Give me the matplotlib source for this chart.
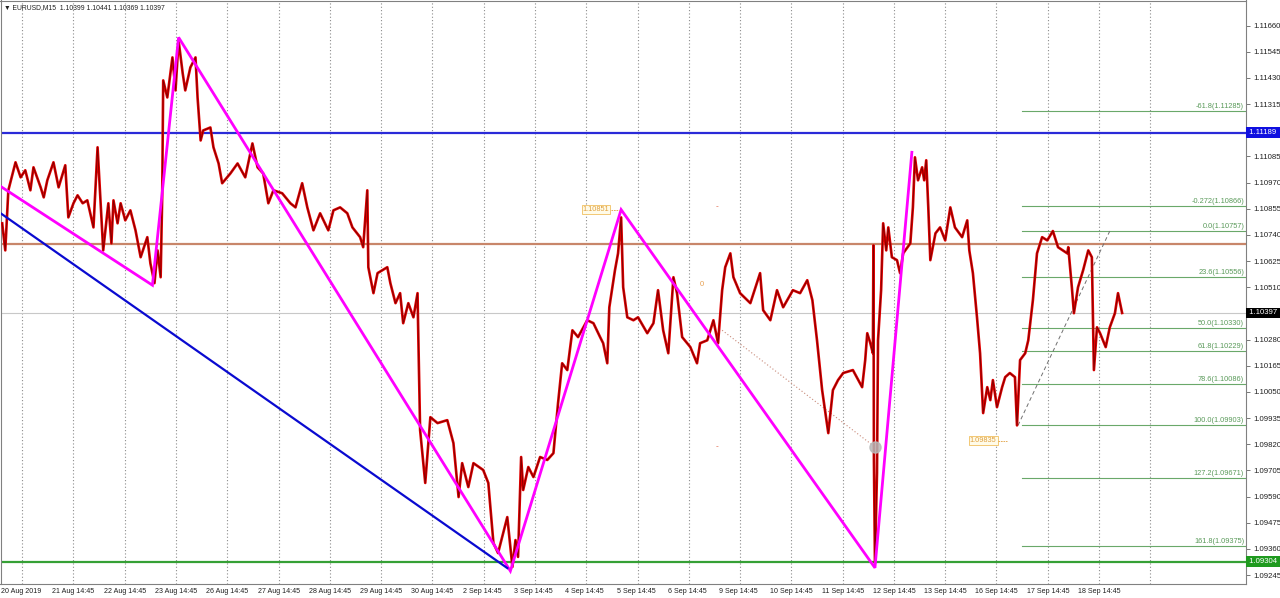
import matplotlib
matplotlib.use("Agg")
import matplotlib.pyplot as plt

plt.rcParams['font.family'] = ['Liberation Sans', 'DejaVu Sans']

# price path, x in trading days from 20 Aug 14:45
t_days = [-0.39, -0.33, -0.27, -0.13, -0.03, 0.06, 0.16, 0.22, 0.36, 0.42, 0.49, 0.61, 0.71, 0.84, 0.90,
          1.00, 1.08, 1.18, 1.27, 1.39, 1.47, 1.53, 1.58, 1.68, 1.74, 1.78, 1.86, 1.92, 2.01, 2.11,
          2.21, 2.31, 2.44, 2.50, 2.58, 2.64, 2.70, 2.73, 2.75, 2.83, 2.93, 2.99, 3.05, 3.13, 3.18,
          3.28, 3.38, 3.42, 3.48, 3.53, 3.67, 3.73, 3.83, 3.90, 4.06, 4.20, 4.35, 4.49, 4.59, 4.70,
          4.80, 4.90, 5.07, 5.23, 5.33, 5.46, 5.56, 5.68, 5.81, 5.97, 6.07, 6.20, 6.34, 6.44, 6.59,
          6.65, 6.73, 6.75, 6.85, 6.93, 7.12, 7.18, 7.28, 7.37, 7.43, 7.53, 7.63, 7.71, 7.72, 7.76,
          7.86, 7.96, 8.10, 8.29, 8.41, 8.51, 8.58, 8.70, 8.80, 8.99, 9.09, 9.19, 9.28, 9.36, 9.46,
          9.56, 9.62, 9.67, 9.73, 9.77, 9.87, 9.97, 10.10, 10.24, 10.36, 10.45, 10.53, 10.63, 10.73, 10.84,
          11.02, 11.14, 11.27, 11.33, 11.41, 11.45, 11.56, 11.62, 11.68, 11.72, 11.80, 11.92, 12.01, 12.19, 12.31,
          12.40, 12.50, 12.60, 12.70, 12.77, 12.87, 13.03, 13.16, 13.22, 13.36, 13.48, 13.57, 13.65, 13.71, 13.81,
          13.87, 14.00, 14.20, 14.39, 14.45, 14.59, 14.72, 14.84, 15.03, 15.17, 15.31, 15.41, 15.50, 15.60, 15.72,
          15.81, 15.91, 16.01, 16.20, 16.38, 16.44, 16.48, 16.54, 16.59, 16.60, 16.61, 16.63, 16.67, 16.69, 16.75,
          16.79, 16.85, 16.89, 16.96, 17.06, 17.12, 17.18, 17.32, 17.37, 17.41, 17.47, 17.55, 17.59, 17.63, 17.67,
          17.71, 17.81, 17.90, 18.00, 18.10, 18.19, 18.33, 18.43, 18.47, 18.54, 18.62, 18.68, 18.74, 18.82, 18.88,
          18.93, 19.01, 19.11, 19.17, 19.26, 19.36, 19.40, 19.46, 19.56, 19.62, 19.71, 19.79, 19.89, 19.99, 20.10,
          20.20, 20.38, 20.40, 20.47, 20.51, 20.59, 20.69, 20.79, 20.86, 20.88, 20.90, 20.96, 21.02, 21.13, 21.21,
          21.31, 21.37, 21.45]
price = [1.10791, 1.10672, 1.10936, 1.11059, 1.10993, 1.11024, 1.10936, 1.11037, 1.10949, 1.10905, 1.10980, 1.11059, 1.10949, 1.11046, 1.10817,
         1.10879, 1.10914, 1.10879, 1.10892, 1.10773, 1.11125, 1.10879, 1.10672, 1.10879, 1.10703, 1.10892, 1.10791, 1.10879, 1.10804, 1.10848,
         1.10760, 1.10642, 1.10730, 1.10615, 1.10528, 1.10672, 1.10554, 1.10905, 1.11419, 1.11344, 1.11520, 1.11375, 1.11594, 1.11450, 1.11375,
         1.11476, 1.11520, 1.11344, 1.11155, 1.11199, 1.11212, 1.11125, 1.11054, 1.10967, 1.11010, 1.11054, 1.10993, 1.11142, 1.11037, 1.11010,
         1.10879, 1.10936, 1.10923, 1.10879, 1.10861, 1.10967, 1.10861, 1.10760, 1.10835, 1.10760, 1.10848, 1.10861, 1.10835, 1.10773, 1.10730,
         1.10686, 1.10936, 1.10598, 1.10484, 1.10572, 1.10598, 1.10528, 1.10440, 1.10484, 1.10352, 1.10440, 1.10378, 1.10484, 1.10352, 1.09882,
         1.09650, 1.09939, 1.09913, 1.09926, 1.09825, 1.09588, 1.09737, 1.09632, 1.09737, 1.09707, 1.09650, 1.09386, 1.09342, 1.09413, 1.09500,
         1.09281, 1.09399, 1.09325, 1.09764, 1.09619, 1.09720, 1.09676, 1.09764, 1.09751, 1.09781, 1.10001, 1.10176, 1.10146, 1.10321, 1.10291,
         1.10365, 1.10352, 1.10291, 1.10264, 1.10176, 1.10422, 1.10585, 1.10659, 1.10817, 1.10510, 1.10378, 1.10365, 1.10378, 1.10308, 1.10352,
         1.10497, 1.10321, 1.10220, 1.10554, 1.10484, 1.10291, 1.10247, 1.10176, 1.10264, 1.10277, 1.10365, 1.10264, 1.10497, 1.10598, 1.10659,
         1.10554, 1.10484, 1.10440, 1.10572, 1.10409, 1.10365, 1.10497, 1.10422, 1.10497, 1.10484, 1.10541, 1.10453, 1.10277, 1.10058, 1.09869,
         1.10058, 1.10102, 1.10133, 1.10146, 1.10071, 1.10190, 1.10308, 1.10264, 1.10220, 1.10694, 1.09751, 1.09298, 1.09694, 1.10277, 1.10497,
         1.10791, 1.10672, 1.10773, 1.10642, 1.10629, 1.10572, 1.10659, 1.10703, 1.10861, 1.11081, 1.10980, 1.11037, 1.10980, 1.11068, 1.10861,
         1.10629, 1.10747, 1.10773, 1.10716, 1.10861, 1.10773, 1.10730, 1.10804, 1.10672, 1.10572, 1.10378, 1.10220, 1.09957, 1.10071, 1.10014,
         1.10102, 1.09983, 1.10071, 1.10115, 1.10133, 1.10115, 1.09903, 1.10190, 1.10220, 1.10277, 1.10453, 1.10659, 1.10730, 1.10716, 1.10757,
         1.10686, 1.10659, 1.10686, 1.10510, 1.10396, 1.10510, 1.10585, 1.10672, 1.10642, 1.10396, 1.10146, 1.10334, 1.10308, 1.10247, 1.10334,
         1.10396, 1.10484, 1.10397]

# zigzag pivots
zz_t = [-0.42, 2.54, 3.05, 9.52, 11.68, 16.63, 17.35]
zz_p = [1.10953, 1.10519, 1.11608, 1.09263, 1.10851, 1.09277, 1.11103]

# blue trend line
trend_t = [-0.42, 9.46]
trend_p = [1.10835, 1.09276]

# horizontal levels
level_blue = 1.11189
level_green = 1.09304
level_orange = 1.10698
last_price = 1.10397

# fibonacci retracement
fib_start = 19.50
fib_names = ['-61.8', '-0.272', '0.0', '23.6', '50.0', '61.8', '78.6', '100.0', '127.2', '161.8']
fib_values = [1.11285, 1.10866, 1.10757, 1.10556, 1.10330, 1.10229, 1.10086, 1.09903, 1.09671, 1.09375]
fib_diag_t = [19.42, 21.21]
fib_diag_p = [1.09903, 1.10757]

# price axis ticks (1.11200 and 1.10395 sit under the level boxes)
y_ticks = [1.11660, 1.11545, 1.11430, 1.11315, 1.11200, 1.11085, 1.10970, 1.10855, 1.10740, 1.10625,
           1.10510, 1.10395, 1.10280, 1.10165, 1.10050, 1.09935, 1.09820, 1.09705, 1.09590, 1.09475,
           1.09360, 1.09245]
hidden_ticks = [1.11200, 1.10395]

# time axis labels (one per trading day)
x_labels = ['20 Aug 2019', '21 Aug 14:45', '22 Aug 14:45', '23 Aug 14:45', '26 Aug 14:45', '27 Aug 14:45',
            '28 Aug 14:45', '29 Aug 14:45', '30 Aug 14:45', '2 Sep 14:45', '3 Sep 14:45', '4 Sep 14:45',
            '5 Sep 14:45', '6 Sep 14:45', '9 Sep 14:45', '10 Sep 14:45', '11 Sep 14:45', '12 Sep 14:45',
            '13 Sep 14:45', '16 Sep 14:45', '17 Sep 14:45', '18 Sep 14:45']
n_grid = 23

fig = plt.figure(figsize=(12.8, 5.98), dpi=100)
ax = fig.add_axes([0.5 / 1280, 14 / 598, 1245.5 / 1280, 583.5 / 598])
ax.set_xlim(-0.423, 23.866)
ax.set_ylim(1.09206, 1.11770)

for k in range(n_grid):
    ax.axvline(k, color='#8c8c8c', lw=0.8, ls=(0, (1, 2)), zorder=1)

ax.axhline(last_price, color='#c8c8c8', lw=0.8, zorder=1)
ax.axhline(level_orange, color='#c8866a', lw=1.6, zorder=2)
ax.axhline(level_blue, color='#2a2ad8', lw=1.6, zorder=2)
ax.axhline(level_green, color='#35a035', lw=1.6, zorder=2)

# fibonacci
for name, v in zip(fib_names, fib_values):
    ax.plot([fib_start, 23.866], [v, v], color='#6aa86a', lw=0.8, zorder=2)
    ax.text(23.83, v + 0.00004, '%s(%.5f)' % (name, v), color='#5a9a5a', fontsize=5.3,
            ha='right', va='bottom', zorder=3)
ax.plot(fib_diag_t, fib_diag_p, color='#707070', lw=0.7, ls=(0, (4, 3)), zorder=3)

# dotted projection and circle
ax.plot([13.65, 16.63], [1.10321, 1.09808], color='#c88a7a', lw=0.8, ls=(0, (1, 2)), zorder=3)

# price
ax.plot(t_days, price, color='#e00000', lw=1.9, zorder=5)
ax.plot(t_days, price, color='#000000', lw=0.6, alpha=0.45, zorder=6)
ax.plot([16.63], [1.09808], 'o', ms=8, color='#b8b8b8', alpha=0.85, zorder=8)

# zigzag and trend
ax.plot(zz_t, zz_p, color='#ff00ff', lw=2.0, zorder=7, solid_joinstyle='miter')
ax.plot(trend_t, trend_p, color='#0a0ad0', lw=1.6, zorder=7)

# small markers
ax.text(13.55, 1.10866, '-', color='#e06040', fontsize=6, ha='center', va='center', zorder=8)
ax.text(13.55, 1.09808, '-', color='#e06040', fontsize=6, ha='center', va='center', zorder=8)
ax.text(13.26, 1.10523, '0', color='#e8a050', fontsize=5.5, ha='center', va='center', zorder=8)
ax.text(11.45, 1.10851, '1.10851', color='#e0a040', fontsize=5.3, ha='right', va='center', zorder=8,
        bbox=dict(boxstyle='square,pad=0.15', fc='#fffbe8', ec='#f0c060', lw=0.6))
ax.plot([11.48, 11.64], [1.10851, 1.10851], color='#e0a040', lw=0.6, ls=(0, (2, 1)), zorder=8)
ax.text(19.0, 1.09835, '1.09835', color='#e0a040', fontsize=5.3, ha='right', va='center', zorder=8,
        bbox=dict(boxstyle='square,pad=0.15', fc='#fffbe8', ec='#f0c060', lw=0.6))
ax.plot([19.02, 19.2], [1.09835, 1.09835], color='#e0a040', lw=0.6, ls=(0, (2, 1)), zorder=8)

# axes styling
for s in ax.spines.values():
    s.set_color('#808080')
    s.set_linewidth(0.8)
ax.yaxis.tick_right()
ax.set_yticks(y_ticks)
ax.set_yticklabels(['' if v in hidden_ticks else '%.5f' % v for v in y_ticks])
ax.tick_params(axis='y', length=3, width=0.6, color='#606060', labelsize=5.6, labelcolor='#202020', pad=2)
ax.set_xticks([])

xt = ax.get_xaxis_transform()
for k, lab in enumerate(x_labels):
    ax.text(k - 0.41, -0.006, lab, transform=xt, fontsize=5.1, color='#202020',
            ha='left', va='top', clip_on=False)

# price-axis boxes
yt = ax.get_yaxis_transform()
for v, fc, tc in [(level_blue, '#1010e0', 'white'), (last_price, '#000000', 'white'),
                  (level_green, '#1f9a1f', 'white')]:
    ax.text(1.0012, v, ' %.5f ' % v, transform=yt, fontsize=5.6, color=tc, ha='left', va='center',
            clip_on=False, zorder=10,
            bbox=dict(boxstyle='square,pad=0.25', fc=fc, ec=fc, lw=0))

ax.text(0.003, 0.988, '\u25bc EURUSD,M15  1.10399 1.10441 1.10369 1.10397', transform=ax.transAxes,
        fontsize=4.9, color='#202020', ha='left', va='center', zorder=10)

fig.savefig('out.png', dpi=100, facecolor='white')
